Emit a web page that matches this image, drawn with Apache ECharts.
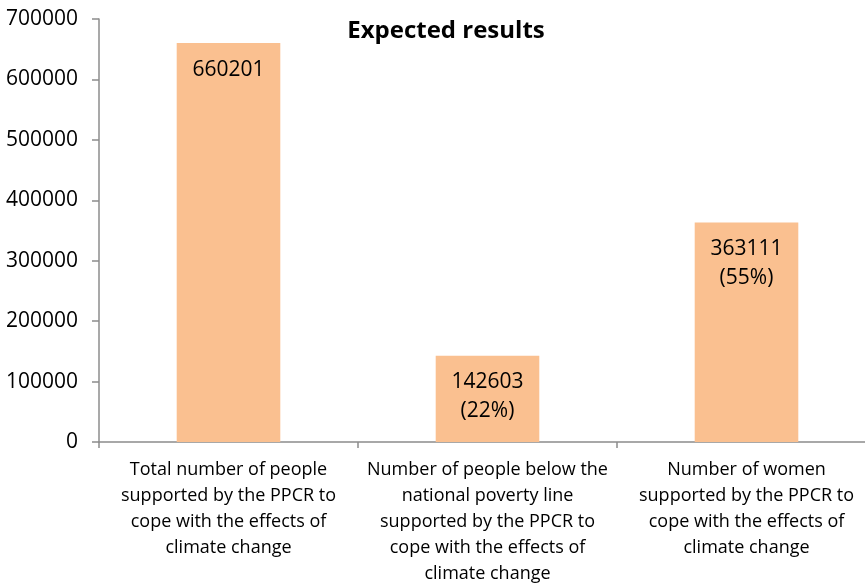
<!DOCTYPE html>
<html>
<head>
<meta charset="utf-8">
<script src="https://cdn.jsdelivr.net/npm/echarts@6/dist/echarts.min.js"></script>
<style>
  html, body { margin: 0; padding: 0; background: #ffffff; }
  #chart { width: 865px; height: 587px; }
</style>
</head>
<body>
<div id="chart"></div>
<script>
// Categories (line breaks as they wrap under the axis)
const categories = [
  'Total number of people\nsupported by the PPCR to\ncope with the effects of\nclimate change',
  'Number of people below the\nnational poverty line\nsupported by the PPCR to\ncope with the effects of\nclimate change',
  'Number of women\nsupported by the PPCR to\ncope with the effects of\nclimate change'
];
// Number of people reached
const values = [660201, 142603, 363111];
// Share of the total shown under the value
const shares = ['', '22%', '55%'];
// Value axis ticks
const yMin = 0;
const yMax = 700000;
const yStep = 100000;

const FONT = '"Open Sans", sans-serif';
const AXIS_GREY = '#8c8c8c';

const chart = echarts.init(document.getElementById('chart'), null, { renderer: 'canvas' });

chart.setOption({
  animation: false,
  backgroundColor: '#ffffff',
  title: {
    text: 'Expected results',
    left: 441,
    textAlign: 'center',
    top: 14,
    textStyle: { fontFamily: FONT, fontSize: 24, fontWeight: 'bold', color: '#000000' }
  },
  grid: { left: 99, top: 19, width: 777, height: 423, containLabel: false, outerBoundsMode: 'none' },
  xAxis: {
    type: 'category',
    data: categories,
    axisLine: { lineStyle: { color: AXIS_GREY, width: 1.5 } },
    axisTick: { show: true, alignWithLabel: false, length: 6, lineStyle: { color: AXIS_GREY, width: 1.5 } },
    axisLabel: {
      interval: 0,
      margin: 15,
      color: '#000000',
      fontFamily: FONT,
      fontSize: 18,
      lineHeight: 26,
      align: 'center'
    },
    splitLine: { show: false }
  },
  yAxis: {
    type: 'value',
    min: yMin,
    max: yMax,
    interval: yStep,
    axisLine: { show: true, lineStyle: { color: AXIS_GREY, width: 1.5 } },
    axisTick: { show: true, length: 7, lineStyle: { color: AXIS_GREY, width: 1.5 } },
    axisLabel: {
      margin: 21,
      color: '#000000',
      fontFamily: FONT,
      fontSize: 21,
      formatter: function (v) { return String(v); }
    },
    splitLine: { show: false }
  },
  series: [{
    type: 'bar',
    data: values,
    barWidth: '40%',
    itemStyle: { color: '#FAC090' },
    label: {
      show: true,
      position: 'insideTop',
      distance: 12,
      color: '#000000',
      fontFamily: FONT,
      fontSize: 21,
      lineHeight: 29,
      formatter: function (p) {
        const s = shares[p.dataIndex];
        return s ? p.value + '\n(' + s + ')' : String(p.value);
      }
    }
  }]
});
</script>
</body>
</html>
